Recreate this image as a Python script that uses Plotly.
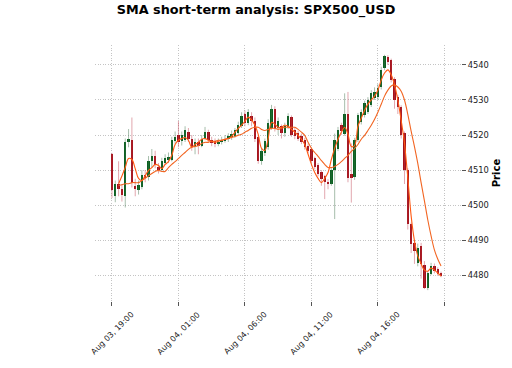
import plotly.graph_objects as go

# ---------------- data ----------------
tick_labels = ["Aug 03, 19:00", "Aug 04, 01:00", "Aug 04, 06:00", "Aug 04, 11:00", "Aug 04, 16:00"]
tick_index = [0, 20, 40, 60, 80, 100]

opens = [4514.7, 4502.5, 4506.0, 4504.5, 4502.5, 4518.0, 4518.5, 4505.5, 4504.2, 4505.2,
         4508.5, 4508.0, 4512.5, 4514.0, 4511.0, 4510.0, 4512.0, 4513.0, 4513.0, 4518.3,
         4520.0, 4518.3, 4518.5, 4521.0, 4519.0, 4516.5, 4518.0, 4516.8, 4519.0, 4521.0,
         4518.5, 4518.3, 4517.5, 4518.0, 4518.3, 4518.8, 4519.3, 4519.8, 4520.5, 4522.5,
         4526.0, 4523.5, 4525.5, 4524.0, 4519.5, 4512.5, 4515.0, 4516.5, 4522.0, 4527.5,
         4522.0, 4522.5, 4520.5, 4522.3, 4525.0, 4521.5, 4520.5, 4519.8, 4518.6, 4517.0,
         4516.0, 4513.3, 4511.5, 4509.4, 4508.2, 4506.7, 4506.0, 4509.9, 4516.0, 4522.8,
         4520.4, 4526.1, 4509.0, 4507.9, 4518.5, 4523.7, 4525.6, 4526.5, 4528.5, 4530.5,
         4530.8, 4533.7, 4539.1, 4542.3, 4541.4, 4536.0, 4530.8, 4527.9, 4520.5, 4509.9,
         4494.6, 4489.2, 4483.4, 4488.3, 4483.0, 4476.3, 4480.3, 4482.6, 4481.7, 4480.6]
highs = [4514.9, 4507.0, 4512.5, 4506.0, 4519.0, 4521.7, 4525.0, 4507.5, 4507.0, 4510.0,
         4510.0, 4514.0, 4516.0, 4515.5, 4512.0, 4513.5, 4514.5, 4515.0, 4519.5, 4521.0,
         4524.0, 4521.0, 4522.5, 4522.0, 4520.0, 4519.0, 4519.0, 4520.0, 4522.3, 4521.5,
         4519.5, 4519.0, 4519.0, 4519.5, 4520.0, 4520.5, 4521.3, 4522.0, 4523.8, 4526.5,
         4527.0, 4527.4, 4526.5, 4525.0, 4520.0, 4516.0, 4519.0, 4524.5, 4528.6, 4528.2,
         4525.0, 4523.0, 4523.5, 4526.2, 4525.6, 4522.3, 4521.2, 4520.4, 4519.2, 4517.6,
         4516.5, 4513.8, 4512.0, 4510.0, 4508.6, 4507.4, 4510.5, 4520.4, 4522.3, 4523.5,
         4531.9, 4532.3, 4517.6, 4519.2, 4526.3, 4527.3, 4529.8, 4530.8, 4532.8, 4533.6,
         4534.5, 4539.5, 4542.9, 4542.8, 4541.8, 4536.5, 4531.5, 4528.5, 4521.0, 4510.5,
         4495.0, 4490.0, 4489.0, 4489.2, 4484.0, 4481.2, 4483.5, 4483.3, 4482.2, 4481.0]
lows = [4502.0, 4500.8, 4502.5, 4501.0, 4499.3, 4516.5, 4505.0, 4502.5, 4503.0, 4504.5,
        4506.5, 4507.0, 4510.7, 4510.5, 4509.0, 4509.5, 4511.5, 4512.0, 4512.5, 4517.5,
        4516.5, 4517.0, 4518.0, 4518.0, 4515.5, 4514.5, 4514.5, 4516.5, 4518.5, 4518.0,
        4516.8, 4516.5, 4516.8, 4517.3, 4517.8, 4518.0, 4518.6, 4519.2, 4520.0, 4522.0,
        4522.5, 4522.8, 4522.5, 4518.0, 4511.8, 4511.5, 4514.0, 4515.8, 4521.5, 4521.0,
        4520.0, 4519.0, 4519.5, 4521.7, 4519.5, 4518.8, 4518.3, 4517.4, 4515.8, 4514.8,
        4512.0, 4510.2, 4508.2, 4505.5, 4501.7, 4504.5, 4505.5, 4496.0, 4515.4, 4520.0,
        4519.8, 4506.5, 4500.7, 4507.2, 4518.0, 4523.0, 4525.0, 4526.0, 4528.0, 4530.0,
        4530.0, 4533.0, 4538.5, 4540.0, 4535.0, 4527.5, 4526.0, 4519.0, 4506.0, 4493.0,
        4486.3, 4483.2, 4482.5, 4479.0, 4476.0, 4475.7, 4480.0, 4480.5, 4479.8, 4479.4]
closes = [4504.4, 4506.0, 4504.5, 4503.0, 4518.0, 4519.0, 4506.2, 4504.5, 4505.8, 4508.5,
          4508.0, 4512.7, 4514.0, 4511.5, 4510.0, 4512.5, 4513.3, 4513.8, 4518.5, 4519.5,
          4518.0, 4520.0, 4521.3, 4519.0, 4516.5, 4518.0, 4516.8, 4519.0, 4521.0, 4518.5,
          4518.0, 4517.5, 4518.0, 4518.6, 4519.0, 4519.6, 4520.2, 4521.3, 4522.8, 4525.5,
          4523.5, 4526.5, 4524.0, 4519.0, 4512.7, 4515.3, 4518.3, 4523.4, 4527.5, 4521.9,
          4524.0, 4520.5, 4522.5, 4525.3, 4520.0, 4519.6, 4519.0, 4518.0, 4516.5, 4515.5,
          4512.7, 4510.8, 4508.9, 4507.5, 4506.5, 4506.1, 4509.9, 4518.5, 4521.3, 4521.1,
          4526.1, 4507.6, 4507.8, 4518.5, 4525.6, 4526.6, 4529.0, 4530.0, 4532.0, 4532.3,
          4533.4, 4538.6, 4542.6, 4540.9, 4535.7, 4530.0, 4527.9, 4519.9, 4509.9, 4494.6,
          4488.9, 4486.9, 4487.8, 4483.2, 4476.3, 4480.6, 4482.6, 4481.1, 4480.3, 4479.7]

sma_short = [None, None, 4506.1, 4508.3, 4510.7, 4513.3, 4513.0, 4510.4, 4507.6, 4507.0,
             4508.4, 4509.9, 4510.7, 4511.6, 4511.3, 4510.4, 4511.6, 4512.4, 4514.2, 4517.3,
             4518.5, 4519.0, 4519.3, 4518.5, 4516.5, 4517.3, 4517.9, 4518.8, 4519.0, 4518.5,
             4518.2, 4517.9, 4518.2, 4518.5, 4518.8, 4519.0, 4519.6, 4520.8, 4521.9, 4522.8,
             4523.9, 4525.1, 4524.3, 4522.8, 4520.2, 4516.2, 4515.6, 4519.0, 4523.6, 4523.1,
             4522.2, 4522.2, 4522.8, 4522.5, 4521.6, 4520.8, 4519.9, 4518.8, 4517.3, 4514.5,
             4511.6, 4509.3, 4507.6, 4506.4, 4507.6, 4509.3, 4513.0, 4516.2, 4518.8, 4520.8,
             4522.2, 4520.2, 4516.7, 4517.0, 4522.5, 4524.8, 4527.1, 4528.8, 4530.0, 4531.1,
             4532.8, 4535.7, 4537.7, 4538.6, 4537.2, 4534.3, 4530.0, 4524.2, 4517.6, 4507.8,
             4496.9, 4489.8, 4485.5, 4483.2, 4481.4, 4481.1, 4482.0, 4481.4, 4480.6, 4479.7]
sma_long = [None, None, 4505.6, 4505.8, 4506.1, 4506.1, 4506.4, 4506.4, 4506.4, 4507.0,
            4507.6, 4508.4, 4509.0, 4509.6, 4509.9, 4509.6, 4509.6, 4510.7, 4511.6, 4512.4,
            4513.3, 4514.2, 4515.0, 4515.9, 4516.5, 4516.7, 4517.0, 4517.6, 4517.9, 4517.9,
            4518.2, 4518.2, 4518.5, 4518.5, 4518.8, 4519.0, 4519.3, 4519.6, 4519.9, 4520.2,
            4520.8, 4521.3, 4521.9, 4522.2, 4522.2, 4521.6, 4521.3, 4521.6, 4521.9, 4521.9,
            4521.6, 4521.9, 4522.2, 4522.2, 4522.2, 4522.2, 4521.6, 4520.8, 4519.9, 4517.9,
            4516.2, 4515.0, 4513.9, 4512.7, 4511.6, 4510.7, 4510.7, 4511.0, 4511.6, 4512.4,
            4513.3, 4514.2, 4515.3, 4516.2, 4517.3, 4518.8, 4519.9, 4521.3, 4522.8, 4524.5,
            4526.5, 4528.8, 4531.1, 4532.8, 4534.0, 4534.3, 4533.7, 4532.5, 4530.0, 4525.9,
            4521.1, 4516.7, 4511.9, 4506.4, 4501.2, 4495.8, 4491.2, 4487.2, 4484.6, 4482.6]

price_ticks = [4480, 4490, 4500, 4510, 4520, 4530, 4540]

# ---------------- styles ----------------
UP_BODY = "#0b6121"
DOWN_BODY = "#a3121a"
UP_WICK = "rgba(60,110,70,0.45)"
DOWN_WICK = "rgba(190,60,75,0.45)"
MA_SHORT = "#ff5a14"
MA_LONG = "#f26522"
GRID = "#c4c4c4"
FONT = "DejaVu Sans"

idx = list(range(len(closes)))
is_up = [c >= o for o, c in zip(opens, closes)]

fig = go.Figure()

# wicks
for up, col in ((True, UP_WICK), (False, DOWN_WICK)):
    wx, wy = [], []
    for i in idx:
        if is_up[i] == up:
            wx += [i, i, None]
            wy += [lows[i], highs[i], None]
    fig.add_trace(go.Scatter(x=wx, y=wy, mode="lines", line=dict(color=col, width=1),
                             hoverinfo="skip", showlegend=False))

# bodies
body_base = [min(o, c) for o, c in zip(opens, closes)]
body_h = [max(abs(c - o), 0.25) for o, c in zip(opens, closes)]
fig.add_trace(go.Bar(x=idx, y=body_h, base=body_base, width=0.72,
                     marker=dict(color=[UP_BODY if u else DOWN_BODY for u in is_up], line_width=0),
                     showlegend=False))

# moving averages
fig.add_trace(go.Scatter(x=idx, y=sma_long, mode="lines", line=dict(color=MA_LONG, width=1.1, shape="spline"),
                         showlegend=False))
fig.add_trace(go.Scatter(x=idx, y=sma_short, mode="lines", line=dict(color=MA_SHORT, width=1.1, shape="spline"),
                         showlegend=False))

# x tick labels (centred under the ticks, rotated 45 degrees)
for xi, lab in zip(tick_index, tick_labels):
    fig.add_annotation(x=xi, xref="x", y=-0.125, yref="paper", text=lab, showarrow=False,
                       textangle=-45, xanchor="center", yanchor="middle",
                       font=dict(family=FONT, size=8, color="#222222"))

fig.update_layout(
    width=512, height=368,
    margin=dict(l=95, r=51, t=45, b=67),
    paper_bgcolor="white", plot_bgcolor="white",
    font=dict(family=FONT, color="#222222", size=9),
    title=dict(text="<b>SMA short-term analysis: SPX500_USD</b>", x=0.5, xanchor="center",
               y=1 - 10 / 368, yanchor="middle", font=dict(family=FONT, size=12.8, color="#000000")),
    bargap=0,
    xaxis=dict(range=[-5.1, 105.0], tickmode="array", tickvals=tick_index,
               ticktext=[""] * len(tick_index),
               showgrid=True, gridcolor=GRID, griddash="1px,1.5px", gridwidth=0.7,
               ticks="outside", ticklen=4, tickcolor="#555555", showline=False, zeroline=False),
    yaxis=dict(side="right", range=[4472.6, 4545.7], tickmode="array", tickvals=price_ticks,
               tickfont=dict(size=8.3, color="#222222"),
               showgrid=True, gridcolor=GRID, griddash="1px,1.5px", gridwidth=0.7,
               ticks="outside", ticklen=4, tickcolor="#555555", showline=False, zeroline=False,
               title=dict(text="<b>Price</b>", font=dict(size=10, color="#000000"), standoff=5)),
)

fig.write_html("out.html", config={"displayModeBar": False},
               post_script="document.body.style.margin='0';")
